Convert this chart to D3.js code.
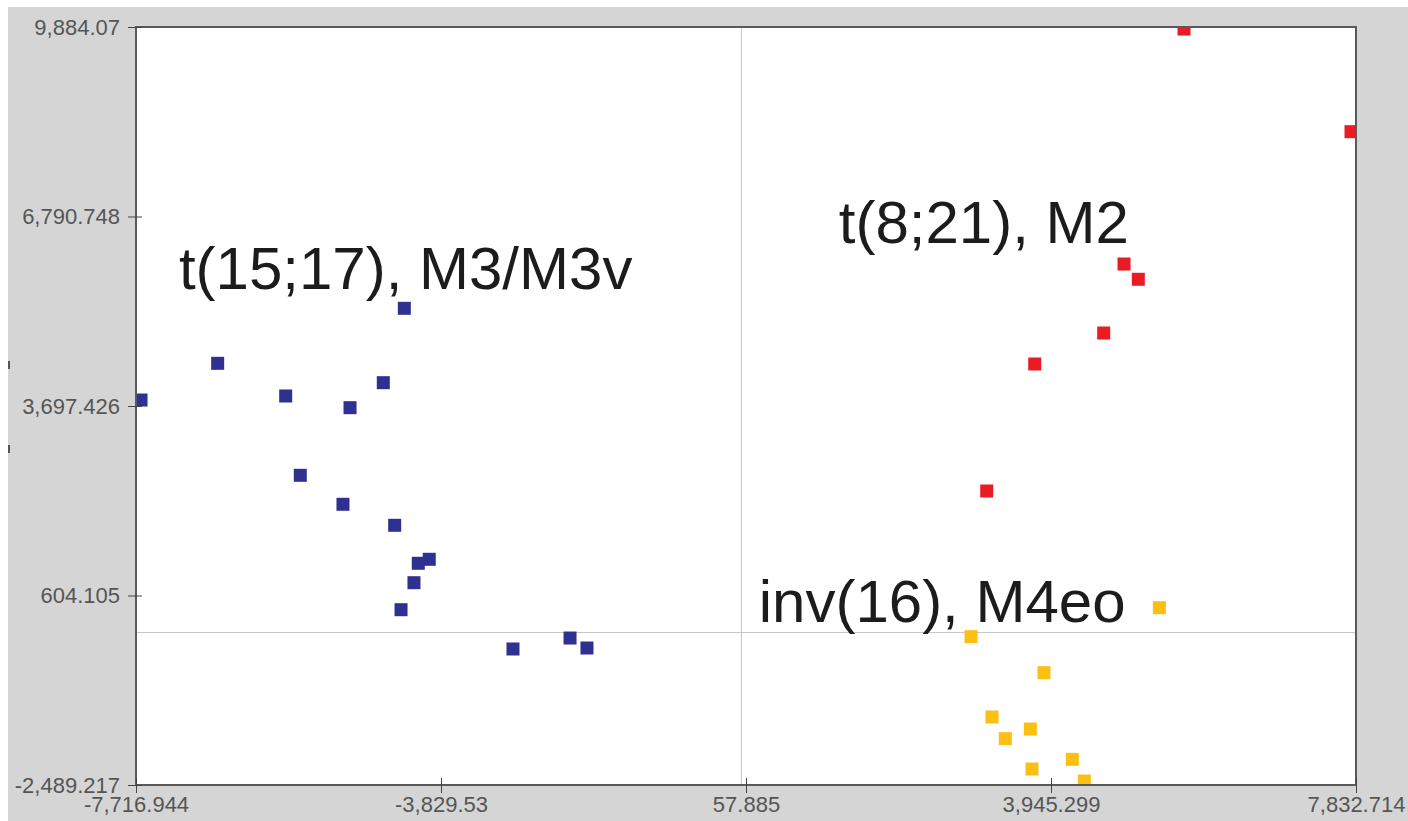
<!DOCTYPE html>
<html>
  <head>
    <meta charset="utf-8" />
    <title>D3 - Scatter</title>
    <script src="https://d3js.org/d3.v7.min.js"></script>
    <style>
      body { margin: 0; background: #fff; }
      svg { display: block; }
    </style>
  </head>

  <body>
    <svg width="1408" height="821"></svg>

    <script type="text/javascript">
      // axis ticks (as printed on the chart)
      var xTicks = [-7716.944, -3829.53, 57.885, 3945.299, 7832.714];
      var xTickLabels = ["-7,716.944", "-3,829.53", "57.885", "3,945.299", "7,832.714"];
      var yTicks = [-2489.217, 604.105, 3697.426, 6790.748, 9884.07];
      var yTickLabels = ["-2,489.217", "604.105", "3,697.426", "6,790.748", "9,884.07"];

      // t(15;17) group
      var blueX = [-4297, -6676, -7653, -5809, -4565, -4989, -5623, -5079, -4420, -4119, -3979, -4174, -4339, -2912, -2185, -1969];
      var blueY = [5292, 4394, 3795, 3861, 4078, 3670, 2566, 2093, 1750, 1130, 1195, 813, 372, -269, -90, -253];

      // t(8;21) group
      var redX = [5641, 7769, 4876, 5058, 4617, 3738, 3126];
      var redY = [9851, 8175, 6015, 5766, 4889, 4383, 2310];

      // inv(16) group
      var yellowX = [5326, 2926, 3856, 3193, 3682, 3363, 4217, 3703, 4370];
      var yellowY = [405, -68, -656, -1379, -1575, -1733, -2070, -2228, -2424];

      var groupLabels = ["t(15;17), M3/M3v", "t(8;21), M2", "inv(16), M4eo"];
      var labelX = [-7170, 1240, 220];
      var labelY = [5607, 6358, 172];

      var svg = d3.select("svg"),
        margin = { top: 27, right: 52, bottom: 36, left: 136 },
        width = +svg.attr("width") - margin.left - margin.right,
        height = +svg.attr("height") - margin.top - margin.bottom;

      // grey panel behind everything
      svg.append("rect")
        .attr("x", 8).attr("y", 7)
        .attr("width", +svg.attr("width") - 8)
        .attr("height", +svg.attr("height") - 7)
        .attr("fill", "#d5d5d5");

      // small marks at the left edge of the panel
      svg.selectAll(".edge")
        .data([365, 449])
        .enter()
        .append("line")
        .attr("x1", 9).attr("x2", 9)
        .attr("y1", function (d) { return d - 4; })
        .attr("y2", function (d) { return d + 4; })
        .attr("stroke", "#555")
        .attr("stroke-width", 2);

      var g = svg.append("g")
        .attr("transform", "translate(" + margin.left + "," + margin.top + ")");

      var xScale = d3.scaleLinear().domain([xTicks[0], xTicks[4]]).range([0, width]);
      var yScale = d3.scaleLinear().domain([yTicks[0], yTicks[4]]).range([height, 0]);

      g.append("rect")
        .attr("width", width).attr("height", height)
        .attr("fill", "#fff");

      // zero lines
      g.append("line")
        .attr("x1", xScale(0)).attr("x2", xScale(0))
        .attr("y1", 0).attr("y2", height)
        .attr("stroke", "#c6c6c6").attr("stroke-width", 1);
      g.append("line")
        .attr("x1", 0).attr("x2", width)
        .attr("y1", yScale(0)).attr("y2", yScale(0))
        .attr("stroke", "#c6c6c6").attr("stroke-width", 1);

      g.append("clipPath").attr("id", "clip")
        .append("rect").attr("width", width).attr("height", height);

      var pts = g.append("g").attr("clip-path", "url(#clip)");
      var size = 13;

      function drawGroup(xs, ys, color) {
        pts.selectAll(null)
          .data(d3.zip(xs, ys))
          .enter()
          .append("rect")
          .attr("x", function (d) { return xScale(d[0]) - size / 2; })
          .attr("y", function (d) { return yScale(d[1]) - size / 2; })
          .attr("width", size)
          .attr("height", size)
          .attr("fill", color);
      }
      drawGroup(blueX, blueY, "#2f3190");
      drawGroup(redX, redY, "#e91b23");
      drawGroup(yellowX, yellowY, "#fbc013");

      // frame
      g.append("rect")
        .attr("width", width).attr("height", height)
        .attr("fill", "none")
        .attr("stroke", "#5a5a5a")
        .attr("stroke-width", 2);

      var xAxis = g.append("g")
        .attr("transform", "translate(0," + height + ")")
        .call(d3.axisBottom(xScale)
          .tickValues(xTicks)
          .tickSizeInner(-7)
          .tickSizeOuter(0)
          .tickFormat(function (d, i) { return xTickLabels[i]; }));

      var yAxis = g.append("g")
        .call(d3.axisLeft(yScale)
          .tickValues(yTicks)
          .tickSizeInner(-6)
          .tickSizeOuter(0)
          .tickPadding(16)
          .tickFormat(function (d, i) { return yTickLabels[i]; }));

      [xAxis, yAxis].forEach(function (ax) {
        ax.select(".domain").remove();
        ax.selectAll("text")
          .attr("fill", "#555")
          .style("font-family", "'Liberation Sans', Arial, sans-serif")
          .style("font-size", "22px");
      });
      // ticks cross the axis line
      xAxis.selectAll("line").attr("y1", -7).attr("y2", 8).attr("stroke", "#444");
      yAxis.selectAll("line").attr("x1", -8).attr("x2", 6).attr("stroke", "#444");
      xAxis.selectAll("text").attr("dy", "0").attr("y", 27);

      // group annotations
      g.selectAll(".lbl")
        .data(groupLabels)
        .enter()
        .append("text")
        .attr("x", function (d, i) { return xScale(labelX[i]); })
        .attr("y", function (d, i) { return yScale(labelY[i]); })
        .attr("fill", "#1c1c1c")
        .style("font-family", "'Liberation Sans', Arial, sans-serif")
        .style("font-size", "60px")
        .text(function (d) { return d; });
    </script>
  </body>
</html>
